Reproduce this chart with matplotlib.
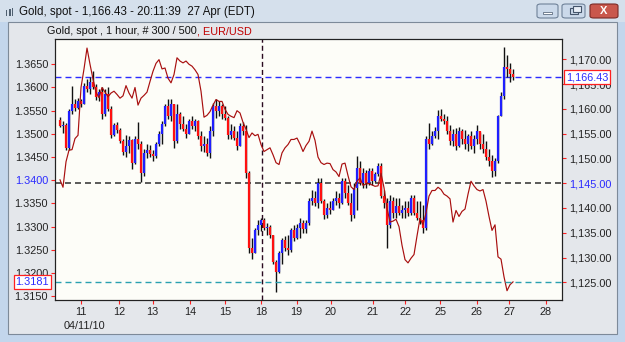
import numpy as np
import matplotlib
matplotlib.use('Agg')
import matplotlib.pyplot as plt
from matplotlib.patches import Rectangle, FancyBboxPatch
from matplotlib.transforms import blended_transform_factory

plt.rcParams['font.family'] = ['Liberation Sans', 'DejaVu Sans']
plt.rcParams['lines.scale_dashes'] = False

W, H = 625, 342

# gold, spot - hourly-ish bars
first_open = 1157.8
gold_high = [
    1158.3, 1157.5, 1157.2, 1160.0, 1164.6, 1162.0, 1162.2, 1162.0, 1165.2, 1166.0,
    1166.5, 1167.6, 1165.0, 1164.0, 1164.5, 1164.0, 1164.5, 1160.5, 1157.2, 1157.3,
    1156.2, 1154.0, 1154.8, 1154.5, 1154.0, 1154.6, 1157.3, 1153.5, 1152.0, 1153.0,
    1152.8, 1151.8, 1153.4, 1155.6, 1157.5, 1161.0, 1162.0, 1162.0, 1161.0, 1161.0,
    1159.3, 1158.5, 1157.0, 1158.0, 1158.6, 1158.0, 1157.8, 1155.5, 1154.5, 1154.2,
    1156.5, 1161.2, 1162.0, 1161.5, 1161.0, 1160.5, 1158.5, 1157.0, 1156.5, 1155.5,
    1157.2, 1157.3, 1156.8, 1147.5, 1134.0, 1136.0, 1137.6, 1138.0, 1138.0, 1137.0,
    1136.6, 1134.6, 1129.5, 1131.3, 1134.0, 1134.3, 1134.6, 1136.0, 1136.6, 1136.8,
    1138.0, 1137.5, 1137.6, 1142.0, 1143.7, 1143.5, 1146.0, 1146.0, 1141.8, 1141.0,
    1141.5, 1142.0, 1143.4, 1143.0, 1146.0, 1146.0, 1144.7, 1143.0, 1145.0, 1150.4,
    1149.4, 1148.0, 1147.7, 1148.0, 1148.0, 1147.3, 1149.0, 1149.0, 1143.7, 1142.0,
    1142.6, 1142.3, 1142.0, 1142.0, 1140.7, 1141.4, 1141.4, 1142.7, 1142.7, 1141.5,
    1141.4, 1140.7, 1154.5, 1157.2, 1155.6, 1156.3, 1159.8, 1160.0, 1159.0, 1158.6,
    1156.8, 1156.0, 1156.2, 1156.4, 1156.0, 1155.7, 1155.0, 1155.5, 1154.8, 1156.7,
    1155.4, 1155.0, 1153.5, 1152.0, 1150.7, 1150.0, 1158.8, 1163.5, 1172.4, 1170.9,
    1169.2, 1168.0]
gold_low = [
    1156.3, 1155.2, 1151.6, 1151.8, 1159.0, 1159.5, 1160.0, 1160.3, 1161.0, 1163.4,
    1163.0, 1164.0, 1161.8, 1161.5, 1158.0, 1158.5, 1159.5, 1154.1, 1154.5, 1155.2,
    1153.2, 1150.6, 1150.2, 1151.0, 1147.8, 1148.8, 1152.0, 1145.2, 1146.5, 1150.0,
    1150.3, 1149.4, 1150.0, 1152.5, 1153.0, 1156.5, 1158.0, 1157.5, 1152.2, 1153.2,
    1156.0, 1155.5, 1154.2, 1155.0, 1156.0, 1155.5, 1154.0, 1151.5, 1151.2, 1150.4,
    1150.0, 1154.5, 1158.2, 1158.5, 1158.0, 1157.8, 1154.0, 1154.0, 1153.8, 1151.8,
    1152.5, 1154.8, 1146.0, 1131.0, 1129.8, 1131.0, 1134.5, 1135.3, 1135.6, 1134.6,
    1134.0, 1128.6, 1123.0, 1126.8, 1128.6, 1131.3, 1130.6, 1131.2, 1133.3, 1133.8,
    1134.0, 1135.0, 1135.0, 1136.6, 1140.7, 1140.5, 1140.0, 1141.0, 1137.7, 1138.0,
    1138.8, 1139.5, 1140.7, 1140.0, 1140.8, 1142.0, 1140.7, 1137.4, 1138.0, 1139.5,
    1144.7, 1144.0, 1144.0, 1144.7, 1144.7, 1145.3, 1146.4, 1142.0, 1140.0, 1132.0,
    1136.0, 1138.0, 1138.0, 1138.6, 1138.0, 1138.0, 1138.3, 1138.6, 1138.6, 1137.5,
    1136.7, 1135.0, 1135.5, 1152.0, 1152.8, 1154.2, 1154.0, 1157.6, 1157.0, 1155.0,
    1152.8, 1152.5, 1151.8, 1152.3, 1153.0, 1152.0, 1151.5, 1152.0, 1151.0, 1153.0,
    1152.0, 1151.0, 1149.7, 1148.5, 1146.3, 1146.5, 1149.0, 1158.5, 1162.0, 1166.5,
    1165.5, 1165.8]
gold_close = [
    1156.6, 1156.8, 1152.2, 1159.6, 1161.0, 1160.2, 1161.5, 1161.0, 1164.6, 1164.0,
    1165.5, 1164.4, 1162.3, 1163.4, 1159.0, 1163.0, 1160.0, 1154.8, 1156.8, 1155.8,
    1153.6, 1151.2, 1152.5, 1153.8, 1149.0, 1154.0, 1153.0, 1147.0, 1151.0, 1151.8,
    1150.8, 1150.5, 1153.0, 1155.0, 1157.0, 1160.5, 1158.5, 1161.0, 1153.5, 1159.0,
    1157.0, 1156.0, 1155.0, 1157.5, 1156.5, 1157.5, 1154.5, 1152.5, 1153.0, 1151.0,
    1155.5, 1160.5, 1159.5, 1160.5, 1159.0, 1158.2, 1154.8, 1155.5, 1154.2, 1152.5,
    1156.5, 1155.5, 1147.0, 1132.0, 1131.0, 1135.5, 1136.5, 1137.5, 1136.0, 1136.2,
    1134.5, 1129.0, 1127.0, 1131.0, 1133.5, 1132.0, 1131.5, 1135.5, 1134.0, 1136.0,
    1137.0, 1135.8, 1137.0, 1141.5, 1142.0, 1141.0, 1145.0, 1141.5, 1138.5, 1140.0,
    1139.5, 1141.5, 1142.0, 1141.0, 1145.5, 1143.0, 1141.0, 1138.5, 1144.0, 1148.0,
    1145.0, 1147.0, 1145.0, 1147.5, 1145.5, 1146.8, 1148.5, 1142.5, 1141.0, 1136.5,
    1141.5, 1139.0, 1140.5, 1139.0, 1139.5, 1140.0, 1139.0, 1142.0, 1139.0, 1138.0,
    1137.5, 1136.0, 1154.0, 1153.0, 1154.5, 1155.5, 1158.5, 1158.0, 1157.6, 1155.5,
    1153.5, 1155.0, 1152.5, 1155.5, 1154.0, 1153.0, 1154.5, 1152.5, 1154.0, 1155.5,
    1153.0, 1152.0, 1150.2, 1149.5, 1147.5, 1149.5, 1158.5, 1162.5, 1168.5, 1168.0,
    1167.0, 1166.43]

# EUR/USD overlay (left scale)
eurusd = [
    1.3401, 1.3385, 1.3440, 1.3465, 1.3466, 1.3490, 1.3497, 1.3600, 1.3640, 1.3685,
    1.3650, 1.3618, 1.3590, 1.3578, 1.3600, 1.3590, 1.3580, 1.3588, 1.3592, 1.3585,
    1.3577, 1.3582, 1.3604, 1.3588, 1.3577, 1.3600, 1.3562, 1.3577, 1.3583, 1.3590,
    1.3613, 1.3635, 1.3652, 1.3660, 1.3640, 1.3642, 1.3620, 1.3610, 1.3628, 1.3664,
    1.3657, 1.3653, 1.3657, 1.3650, 1.3646, 1.3638, 1.3628, 1.3592, 1.3536, 1.3540,
    1.3548, 1.3562, 1.3574, 1.3570, 1.3570, 1.3553, 1.3542, 1.3538, 1.3535, 1.3550,
    1.3545, 1.3525, 1.3510, 1.3492, 1.3502, 1.3496, 1.3499, 1.3477, 1.3462, 1.3466,
    1.3470, 1.3455, 1.3438, 1.3434, 1.3459, 1.3470, 1.3477, 1.3488, 1.3488, 1.3491,
    1.3478, 1.3462, 1.3475, 1.3484, 1.3506, 1.3486, 1.3450, 1.3438, 1.3434, 1.3437,
    1.3436, 1.3423, 1.3418, 1.3408, 1.3435, 1.3437, 1.3410, 1.3386, 1.3380, 1.3398,
    1.3405, 1.3389, 1.3392, 1.3393, 1.3390, 1.3387, 1.3388, 1.3415, 1.3384, 1.3340,
    1.3310, 1.3312, 1.3316, 1.3300, 1.3260, 1.3229, 1.3222, 1.3232, 1.3240, 1.3280,
    1.3318, 1.3304, 1.3330, 1.3366, 1.3378, 1.3378, 1.3385, 1.3380, 1.3370, 1.3366,
    1.3360, 1.3310, 1.3335, 1.3322, 1.3333, 1.3338, 1.3370, 1.3398, 1.3388, 1.3380,
    1.3377, 1.3380, 1.3355, 1.3322, 1.3292, 1.3304, 1.3235, 1.3230, 1.3192, 1.3162,
    1.3175, 1.3181]

day_pos = [7.0, 19.7, 30.9, 43.3, 55.0, 67.1, 78.9, 90.2, 104.2, 115.0, 126.7, 138.9, 149.8, 162.0]
day_lbl = ['11', '12', '13', '14', '15', '18', '19', '20', '21', '22', '25', '26', '27', '28']
gold_ticks = np.arange(1125, 1171, 5)
eur_ticks = np.arange(1.315, 1.3651, 0.005)

last_gold = 1166.43
last_eur = 1.3181
gold_ref = 1145.0
cursor_pos = 67.2

gh = np.array(gold_high)
gl = np.array(gold_low)
gc = np.array(gold_close)
go = np.r_[first_open, gc[:-1]]
x = np.arange(len(gc))

fig = plt.figure(figsize=(W / 100, H / 100), dpi=100)
fig.patch.set_facecolor('#c3d6ec')


def px_rect(x0, y0, w, h, z=-5, **kw):
    r = Rectangle((x0 / W, 1 - (y0 + h) / H), w / W, h / H, transform=fig.transFigure,
                  zorder=z, **kw)
    fig.add_artist(r)
    return r


def px_fancy(x0, y0, w, h, **kw):
    r = FancyBboxPatch((x0 / W, 1 - (y0 + h) / H), w / W, h / H,
                       boxstyle='round,pad=0,rounding_size=0.006',
                       transform=fig.transFigure, zorder=-4, **kw)
    fig.add_artist(r)
    return r


# window chrome
px_rect(0, 0, W, 22, facecolor='#d5e0ec', edgecolor='none')
px_rect(8, 22, 609, 312, facecolor='#e4e7eb', edgecolor='#7d8a99', lw=0.8)
for k in range(3):
    px_rect(6 + 3 * k, 10 - k, 1.5, 6 + k, z=-3, facecolor='#506070', edgecolor='none')
fig.text(19 / W, 1 - 12 / H, 'Gold, spot - 1,166.43 - 20:11:39  27 Apr (EDT)',
         fontsize=8.3, va='center', color='#111111')
px_fancy(537, 4, 21, 14, facecolor='#cbd9ea', edgecolor='#6f8299', lw=0.8)
px_fancy(562, 4, 23, 14, facecolor='#cbd9ea', edgecolor='#6f8299', lw=0.8)
px_fancy(590, 4, 28, 14, facecolor='#c9574c', edgecolor='#7a2a25', lw=0.8)
px_rect(543, 12, 9, 2, z=-3, facecolor='#ffffff', edgecolor='#44546a', lw=0.5)
px_rect(570, 8, 8, 6, z=-3, facecolor='none', edgecolor='#44546a', lw=0.8)
px_rect(573, 6, 8, 6, z=-2, facecolor='#e8eef6', edgecolor='#44546a', lw=0.8)
fig.text(604 / W, 1 - 11 / H, 'X', fontsize=8, fontweight='bold', color='white',
         ha='center', va='center')

sub = fig.text(47 / W, 1 - 31 / H, 'Gold, spot , 1 hour, # 300 / 500',
               fontsize=7.8, va='center', color='#111111')

ax = fig.add_axes([55 / W, 1 - 300 / H, 507 / W, 261 / H])
ax.set_facecolor('#fdfdf8')
axe = ax.twinx()
ax.yaxis.tick_right()
axe.yaxis.tick_left()

ax.annotate(', EUR/USD', xy=(1, 0), xycoords=sub, va='bottom', ha='left',
            fontsize=7.8, color='#c00000', annotation_clip=False)

# gold candles
up = gc >= go
ax.vlines(x, gl, gh, color='#111111', lw=1.0, zorder=3)
ax.vlines(x[up], go[up], gc[up], color='#1f1fff', lw=1.6, zorder=4)
ax.vlines(x[~up], go[~up], gc[~up], color='#ff1010', lw=1.6, zorder=4)

ax.axhline(last_gold, color='#2b2bff', lw=1.0, dashes=(4.3, 2.9), zorder=2)
ax.axhline(gold_ref, color='#4d4d4d', lw=1.3, dashes=(4.3, 2.9), zorder=2)
ax.axvline(cursor_pos, color='#2a0a20', lw=1.0, dashes=(3.6, 2.2), zorder=2)

axe.plot(x, eurusd, color='#a80f0f', lw=0.85)
axe.axhline(last_eur, color='#2aa0b0', lw=1.0, dashes=(4.3, 2.9))

ax.set_xlim(-1.67, 167.33)
ax.set_ylim(1121.43, 1174.10)
axe.set_ylim(1.31420, 1.37045)

ax.set_xticks(day_pos, day_lbl)
ax.set_yticks(gold_ticks, ['{:,.2f}'.format(v) for v in gold_ticks])
axe.set_yticks(eur_ticks, ['{:.4f}'.format(v) for v in eur_ticks])

for a in (ax, axe):
    a.tick_params(colors='#ff2020', labelcolor='#222222', length=3, width=0.8,
                  labelsize=7.8, pad=2)
    for s in a.spines.values():
        s.set_color('#222222')
        s.set_linewidth(0.8)

ax.get_yticklabels()[4].set_color('#2a2aff')
axe.get_yticklabels()[5].set_color('#2a2aff')

ax.text(8.0, -0.1, '04/11/10', transform=ax.get_xaxis_transform(), ha='center',
        va='center', fontsize=7.8, color='#222222')

tr_l = blended_transform_factory(axe.transAxes, axe.transData)
tr_r = blended_transform_factory(axe.transAxes, ax.transData)
axe.text(-0.012, last_eur, '1.3181', transform=tr_l, ha='right', va='center',
         fontsize=7.8, color='#2a2aff', clip_on=False, zorder=10,
         bbox=dict(boxstyle='square,pad=0.15', fc='white', ec='#ff2020', lw=0.9))
axe.text(1.008, last_gold, '1,166.43', transform=tr_r, ha='left', va='center',
         fontsize=7.8, color='#2a2aff', clip_on=False, zorder=10,
         bbox=dict(boxstyle='square,pad=0.15', fc='white', ec='#ff2020', lw=0.9))

fig.savefig('out.png', dpi=100, facecolor=fig.get_facecolor())
